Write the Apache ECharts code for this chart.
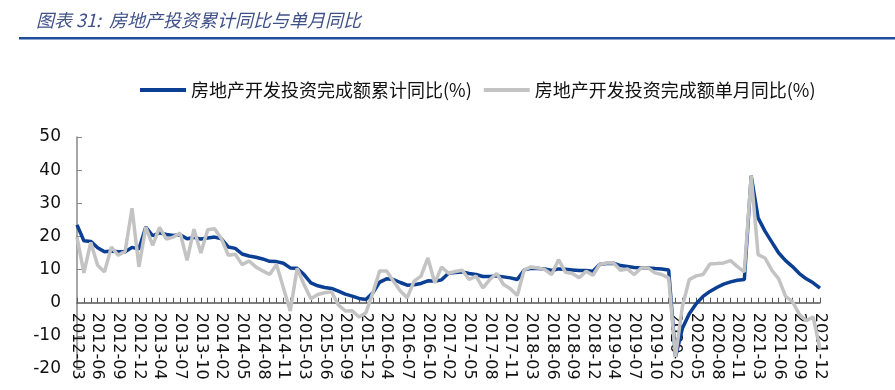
<!DOCTYPE html>
<html>
<head>
<meta charset="utf-8">
<script src="https://cdn.jsdelivr.net/npm/echarts@6/dist/echarts.min.js"></script>
<style>
html,body{margin:0;padding:0;background:#fff;}
#chart{width:895px;height:390px;}
</style>
</head>
<body>
<div id="chart"></div>
<script>
var categories = [
 '2012-03','2012-04','2012-05','2012-06','2012-07','2012-08','2012-09','2012-10','2012-11','2012-12',
 '2013-02','2013-03','2013-04','2013-05','2013-06','2013-07','2013-08','2013-09','2013-10','2013-11','2013-12',
 '2014-02','2014-03','2014-04','2014-05','2014-06','2014-07','2014-08','2014-09','2014-10','2014-11','2014-12',
 '2015-02','2015-03','2015-04','2015-05','2015-06','2015-07','2015-08','2015-09','2015-10','2015-11','2015-12',
 '2016-02','2016-03','2016-04','2016-05','2016-06','2016-07','2016-08','2016-09','2016-10','2016-11','2016-12',
 '2017-02','2017-03','2017-04','2017-05','2017-06','2017-07','2017-08','2017-09','2017-10','2017-11','2017-12',
 '2018-02','2018-03','2018-04','2018-05','2018-06','2018-07','2018-08','2018-09','2018-10','2018-11','2018-12',
 '2019-02','2019-03','2019-04','2019-05','2019-06','2019-07','2019-08','2019-09','2019-10','2019-11','2019-12',
 '2020-02','2020-03','2020-04','2020-05','2020-06','2020-07','2020-08','2020-09','2020-10','2020-11','2020-12',
 '2021-02','2021-03','2021-04','2021-05','2021-06','2021-07','2021-08','2021-09','2021-10','2021-11','2021-12'
];

var cumulativeYoY = [
 23.5,18.7,18.5,16.6,15.4,15.6,15.4,15.4,16.7,16.2,
 22.8,20.2,21.1,20.6,20.3,20.5,19.3,19.7,19.2,19.5,19.8,
 19.3,16.8,16.4,14.7,14.1,13.7,13.2,12.5,12.4,11.9,10.5,
 10.4,8.5,6.0,5.1,4.6,4.3,3.5,2.6,2.0,1.3,1.0,
 3.0,6.2,7.2,7.0,6.1,5.3,5.4,5.8,6.6,6.5,6.9,
 8.9,9.1,9.3,8.8,8.5,7.9,7.9,8.1,7.8,7.5,7.0,
 9.9,10.4,10.3,10.2,9.7,10.2,10.1,9.9,9.7,9.7,9.5,
 11.6,11.8,11.9,11.2,10.9,10.6,10.5,10.5,10.3,10.2,9.9,
 -16.3,-7.7,-3.3,-0.3,1.9,3.4,4.6,5.6,6.3,6.8,7.0,
 38.3,25.6,21.6,18.3,15.0,12.7,10.9,8.8,7.2,6.0,4.4
];

var monthlyYoY = [
 19.7,9.0,18.2,11.3,9.3,16.8,14.3,15.5,28.5,10.8,
 22.8,17.3,22.7,19.2,19.8,21.0,12.8,22.2,15.0,22.0,22.3,
 19.3,14.3,14.6,11.5,12.6,10.8,9.6,8.5,11.5,4.5,-2.5,
 10.4,5.5,1.2,2.5,3.0,3.3,-0.7,-2.5,-2.4,-4.3,-3.0,
 3.0,9.6,9.6,6.5,3.5,1.5,6.5,8.0,13.5,6.0,10.8,
 8.9,9.4,9.8,7.0,8.0,4.5,7.0,8.8,5.5,4.2,2.2,
 9.9,10.8,10.5,10.0,8.5,13.0,9.2,8.8,7.5,9.5,8.3,
 11.6,12.0,12.0,9.8,10.2,8.5,10.5,10.5,9.0,8.5,7.5,
 -16.3,-1.1,7.0,8.1,8.5,11.7,11.8,12.0,12.7,10.9,9.3,
 38.3,14.5,13.5,9.8,7.2,1.9,0.3,-3.5,-5.4,-4.3,-13.9
];

var seriesNames = ['房地产开发投资完成额累计同比(%)', '房地产开发投资完成额单月同比(%)'];
var titleText = '图表 31:  房地产投资累计同比与单月同比';

var yMin = -20, yMax = 50;
var gridTop = 137, gridBottom = 21, chartHeight = 390;
var plotH = chartHeight - gridTop - gridBottom;
var zeroOffset = plotH * (0 - yMin) / (yMax - yMin);

var chart = echarts.init(document.getElementById('chart'), null, {renderer: 'canvas'});
var option = {
  animation: false,
  backgroundColor: '#ffffff',
  title: {
    text: titleText,
    left: 31,
    top: 6,
    textStyle: {
      fontFamily: '"Noto Sans CJK SC", "DejaVu Sans", sans-serif',
      fontStyle: 'italic',
      fontWeight: 'normal',
      fontSize: 18,
      color: '#3f5189'
    }
  },
  graphic: [{
    type: 'rect',
    shape: {x: 19, y: 37, width: 876, height: 2.5},
    style: {fill: '#1f4d9b'},
    silent: true
  }],
  legend: {
    top: 76,
    left: 135,
    itemGap: 12,
    itemWidth: 46,
    itemHeight: 4,
    icon: 'rect',
    textStyle: {
      fontFamily: '"Noto Sans CJK SC", sans-serif',
      fontSize: 18,
      color: '#111'
    },
    data: seriesNames
  },
  grid: {
    left: 77,
    right: 75,
    top: gridTop,
    bottom: gridBottom,
    containLabel: false,
    outerBoundsMode: 'none'
  },
  xAxis: {
    type: 'category',
    data: categories,
    boundaryGap: false,
    offset: -zeroOffset,
    axisLine: {onZero: false, lineStyle: {color: '#555', width: 1.5}},
    axisTick: {show: true, inside: true, interval: 0, length: 5, lineStyle: {color: '#555'}},
    axisLabel: {
      interval: 2,
      rotate: -90,
      margin: 10,
      fontFamily: '"DejaVu Sans", sans-serif',
      fontSize: 16,
      color: '#111'
    },
    splitLine: {show: false}
  },
  yAxis: {
    type: 'value',
    min: yMin,
    max: yMax,
    interval: 10,
    axisLine: {show: true, lineStyle: {color: '#888', width: 1.5}},
    axisTick: {show: true, inside: true, length: 5, lineStyle: {color: '#888'}},
    axisLabel: {
      margin: 16,
      fontFamily: '"DejaVu Sans", sans-serif',
      fontSize: 17,
      color: '#111'
    },
    splitLine: {show: false}
  },
  series: [
    {
      name: seriesNames[0],
      type: 'line',
      data: cumulativeYoY,
      symbol: 'none',
      lineStyle: {color: '#0b3f94', width: 3.5},
      itemStyle: {color: '#0b3f94'},
      z: 2
    },
    {
      name: seriesNames[1],
      type: 'line',
      data: monthlyYoY,
      symbol: 'none',
      lineStyle: {color: '#c3c3c3', width: 3.5},
      itemStyle: {color: '#c3c3c3'},
      z: 3
    }
  ]
};
chart.setOption(option);
</script>
</body>
</html>
